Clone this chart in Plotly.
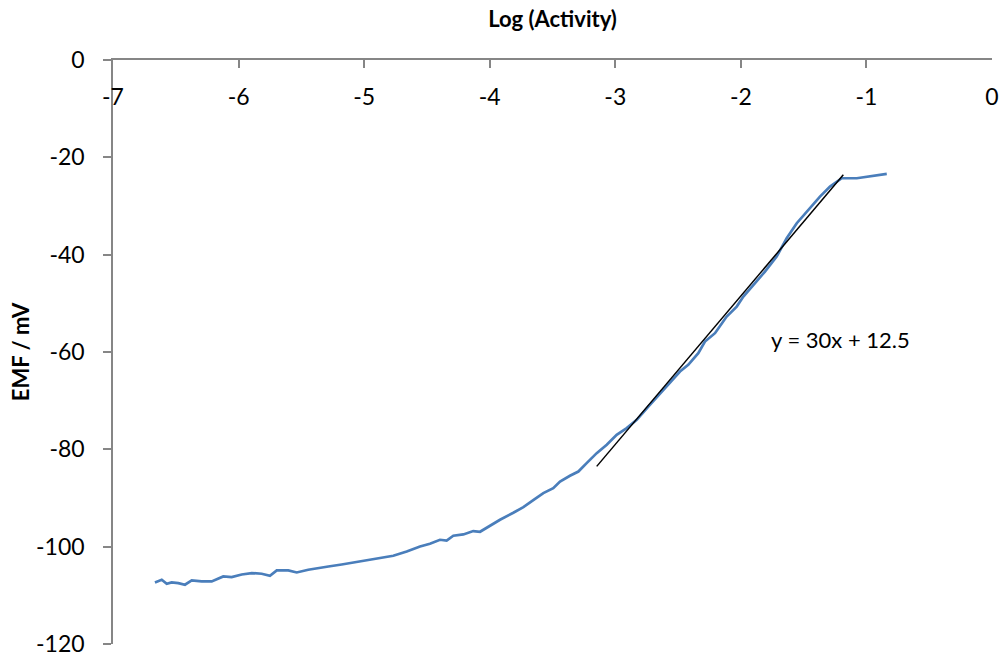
import plotly.graph_objects as go

log_activity = [
    -6.666, -6.612, -6.572, -6.533, -6.480, -6.427, -6.373, -6.294, -6.214, -6.122,
    -6.055, -5.975, -5.895, -5.816, -5.750, -5.696, -5.604, -5.537, -5.445, -5.365,
    -5.285, -5.179, -5.086, -4.980, -4.874, -4.768, -4.661, -4.555, -4.476, -4.396,
    -4.343, -4.290, -4.210, -4.131, -4.077, -3.998, -3.918, -3.812, -3.732, -3.653,
    -3.573, -3.494, -3.440, -3.361, -3.294, -3.228, -3.148, -3.068, -2.989, -2.909,
    -2.829, -2.737, -2.618, -2.485, -2.419, -2.339, -2.286, -2.206, -2.113, -2.033,
    -1.980, -1.901, -1.808, -1.715, -1.635, -1.555, -1.449, -1.370, -1.290, -1.197,
    -1.077, -0.971, -0.838,
]
emf_mv = [
    -107.35, -106.80, -107.62, -107.35, -107.48, -107.82, -106.94, -107.15, -107.15, -106.12,
    -106.24, -105.71, -105.42, -105.57, -105.98, -104.89, -104.89, -105.30, -104.74, -104.33,
    -104.07, -103.66, -103.24, -102.84, -102.42, -101.87, -100.99, -99.96, -99.40, -98.58,
    -98.73, -97.76, -97.49, -96.80, -96.94, -95.71, -94.48, -93.04, -91.87, -90.43,
    -88.99, -87.97, -86.61, -85.44, -84.56, -82.83, -80.78, -79.07, -77.02, -75.64,
    -73.94, -71.21, -67.78, -64.02, -62.64, -60.24, -57.86, -56.13, -52.72, -50.67,
    -48.61, -46.21, -43.48, -40.40, -36.62, -33.54, -30.46, -28.08, -26.02, -24.30,
    -24.30, -23.97, -23.41,
]

# Linear fit segment (endpoints as drawn)
trend_x = [-3.148, -1.184]
trend_y = [-83.5, -23.6]
trend_label = "y = 30x + 12.5"

x_ticks = [-7, -6, -5, -4, -3, -2, -1, 0]
y_ticks = [0, -20, -40, -60, -80, -100, -120]

axis_grey = "#868686"
tick_font = dict(family="Lato", size=23, color="black")
title_font = dict(family="Lato", size=22, color="black")

fig = go.Figure()
fig.add_trace(go.Scatter(
    x=log_activity, y=emf_mv, mode="lines",
    line=dict(color="#4a7ebb", width=2.7),
    showlegend=False, hoverinfo="x+y",
))
fig.add_trace(go.Scatter(
    x=trend_x, y=trend_y, mode="lines",
    line=dict(color="black", width=1.5),
    showlegend=False, hoverinfo="skip",
))

fig.add_annotation(
    x=-1.776, y=-57.5, text=trend_label, showarrow=False,
    xanchor="left", yanchor="middle",
    font=dict(family="Lato", size=22, color="black"),
)

fig.update_layout(
    width=1008, height=661,
    margin=dict(l=113, r=16, t=60, b=17),
    paper_bgcolor="white", plot_bgcolor="white",
    xaxis=dict(
        range=[-7, 0], tickvals=x_ticks, ticktext=[str(v) for v in x_ticks],
        side="top", showline=True, linecolor=axis_grey, linewidth=1.5,
        ticks="inside", ticklen=8, tickcolor=axis_grey, tickwidth=1.5,
        ticklabelposition="inside", ticklabeloverflow="allow",
        ticklabelstandoff=23, automargin=False,
        showgrid=False, zeroline=False, tickfont=tick_font,
        title=dict(text="<b>Log (Activity)</b>", font=title_font, standoff=49),
    ),
    yaxis=dict(
        range=[-120, 0], tickvals=y_ticks, ticktext=[str(v) for v in y_ticks],
        showline=True, linecolor=axis_grey, linewidth=1.5,
        ticks="outside", ticklen=8, tickcolor=axis_grey, tickwidth=1.5,
        ticklabelstandoff=14, automargin=False,
        showgrid=False, zeroline=False, tickfont=tick_font,
        title=dict(text="<b>EMF / mV</b>", font=title_font, standoff=0),
    ),
)

fig.write_html(
    "out.html",
    config={"displayModeBar": False},
    post_script="document.body.style.margin='0';document.body.style.overflow='hidden';",
)
